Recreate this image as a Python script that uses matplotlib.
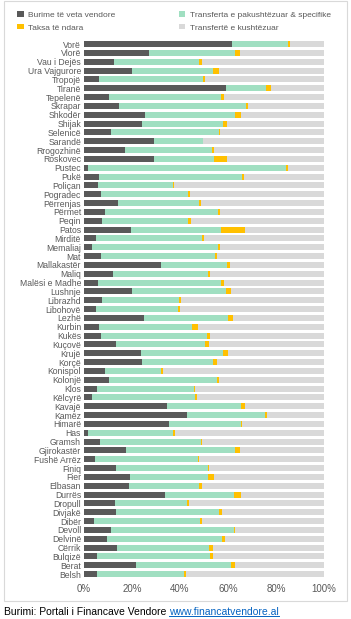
import matplotlib
matplotlib.use('Agg')
import matplotlib.pyplot as plt
from matplotlib.patches import Rectangle
import numpy as np

plt.rcParams['font.family'] = ['Liberation Sans', 'DejaVu Sans']

# ── Data (shares of total revenue, %) ───────────────────────────────────────
municipalities = [
    'Vorë', 'Vlorë', 'Vau i Dejës', 'Ura Vajgurore', 'Tropojë', 'Tiranë',
    'Tepelenë', 'Skrapar', 'Shkodër', 'Shijak', 'Selenicë', 'Sarandë',
    'Rrogozhinë', 'Roskovec', 'Pustec', 'Pukë', 'Poliçan', 'Pogradec',
    'Përrenjas', 'Përmet', 'Peqin', 'Patos', 'Mirditë', 'Memaliaj', 'Mat',
    'Mallakastër', 'Maliq', 'Malësi e Madhe', 'Lushnje', 'Librazhd',
    'Libohovë', 'Lezhë', 'Kurbin', 'Kukës', 'Kuçovë', 'Krujë', 'Korçë',
    'Konispol', 'Kolonjë', 'Klos', 'Këlcyrë', 'Kavajë', 'Kamëz', 'Himarë',
    'Has', 'Gramsh', 'Gjirokastër', 'Fushë Arrëz', 'Finiq', 'Fier',
    'Elbasan', 'Durrës', 'Dropull', 'Divjakë', 'Dibër', 'Devoll', 'Delvinë',
    'Cërrik', 'Bulqizë', 'Berat', 'Belsh',
]
burime_veta = [
    61.7, 27.1, 12.4, 20.0, 6.4, 59.0, 10.3, 14.7, 25.6, 24.0, 11.1, 29.0,
    17.1, 29.0, 1.8, 6.2, 5.7, 7.1, 14.3, 8.7, 7.5, 19.6, 5.1, 3.3, 7.2,
    32.1, 12.1, 5.8, 20.0, 7.6, 5.1, 25.1, 6.2, 7.2, 13.5, 23.6, 24.3,
    8.6, 10.3, 5.4, 3.5, 34.6, 42.8, 35.3, 1.9, 6.8, 17.4, 4.6, 13.5, 19.3,
    18.9, 33.7, 12.9, 13.2, 4.4, 11.5, 9.6, 13.9, 5.4, 21.9, 5.4,
]
transferta_pak = [
    23.3, 35.8, 35.5, 33.9, 43.3, 16.7, 46.8, 52.7, 37.5, 33.9, 45.2, 20.6,
    36.2, 25.0, 82.5, 59.6, 31.5, 36.4, 33.8, 47.1, 35.7, 37.6, 44.1, 52.7,
    47.5, 27.6, 39.6, 51.4, 39.0, 32.1, 34.2, 34.9, 38.9, 44.0, 36.9, 34.5,
    29.6, 23.6, 45.3, 40.4, 42.9, 31.0, 32.8, 30.3, 35.3, 41.8, 45.5, 42.8,
    38.2, 32.4, 28.9, 28.8, 30.2, 43.2, 43.9, 51.0, 47.9, 38.3, 47.0, 39.2,
    36.3,
]
taksa_ndara = [
    0.7, 2.1, 1.3, 2.4, 0.9, 2.2, 1.1, 0.8, 2.3, 1.7, 0.5, 0.0,
    1.1, 5.6, 0.7, 0.9, 0.3, 0.7, 0.8, 1.0, 1.5, 9.9, 0.8, 0.7, 0.9,
    1.0, 0.8, 1.3, 2.1, 0.6, 0.7, 1.9, 2.3, 1.2, 1.7, 1.8, 1.5,
    0.6, 0.7, 0.5, 0.7, 1.3, 0.6, 0.4, 0.7, 0.6, 2.1, 0.5, 0.5, 2.7,
    1.4, 3.1, 0.8, 1.2, 0.9, 0.6, 1.2, 1.4, 1.2, 1.8, 0.8,
]
transferte_kusht = list(100 - np.array(burime_veta) - np.array(transferta_pak)
                        - np.array(taksa_ndara))

series = [
    ('Burime të veta vendore', burime_veta, '#595959'),
    ('Transferta e pakushtëzuar & specifike', transferta_pak, '#A0DFC1'),
    ('Taksa të ndara', taksa_ndara, '#FFC000'),
    ('Transfertë e kushtëzuar', transferte_kusht, '#D9D9D9'),
]

fig = plt.figure(figsize=(3.51, 6.19), dpi=100)
ax = fig.add_axes([0.239, 0.0655, 0.684, 0.8705])

y = np.arange(len(municipalities))
left = np.zeros(len(municipalities))
handles = {}
for name, vals, col in series:
    vals = np.array(vals) / 100.0
    h = ax.barh(y, vals, left=left, height=0.68, color=col, linewidth=0)
    handles[name] = h
    left += vals

ax.set_xlim(0, 1)
ax.set_ylim(len(municipalities) - 0.5, -0.5)
ax.set_yticks(y)
ax.set_yticklabels(municipalities, fontsize=6.2, color='#595959')
ax.set_xticks(np.linspace(0, 1, 6))
ax.set_xticklabels([f'{int(v)}%' for v in np.linspace(0, 100, 6)],
                   fontsize=7, color='#595959')
ax.tick_params(axis='both', length=0, pad=2)
ax.tick_params(axis='x', pad=4)
for s in ax.spines.values():
    s.set_visible(False)

# legend (column-major: left column first)
order = ['Burime të veta vendore', 'Taksa të ndara',
         'Transferta e pakushtëzuar & specifike', 'Transfertë e kushtëzuar']
leg = fig.legend([handles[k] for k in order], order, ncol=2,
                 loc='upper left', bbox_to_anchor=(0.04, 0.987),
                 frameon=False, fontsize=6, handlelength=0.8, handleheight=0.6,
                 handletextpad=0.5, columnspacing=7.6, labelspacing=0.6,
                 borderaxespad=0)
for t in leg.get_texts():
    t.set_color('#595959')

# outer border box
fig.patches.append(Rectangle((0.012, 0.029), 0.976, 0.969, transform=fig.transFigure,
                             fill=False, edgecolor='#D9D9D9', linewidth=0.8))

# source line
src = fig.text(0.012, 0.004, 'Burimi: Portali i Financave Vendore ', fontsize=7.5,
               color='black', ha='left', va='bottom')
fig.canvas.draw()
bb = src.get_window_extent().transformed(fig.transFigure.inverted())
link = fig.text(bb.x1, 0.004, 'www.financatvendore.al', fontsize=7.5, color='#0563C1',
                ha='left', va='bottom')
fig.canvas.draw()
lb = link.get_window_extent().transformed(fig.transFigure.inverted())
fig.add_artist(plt.Line2D([lb.x0, lb.x1], [0.0055, 0.0055], transform=fig.transFigure,
                          color='#0563C1', linewidth=0.7))

fig.savefig('out.png', dpi=100, facecolor='white')
